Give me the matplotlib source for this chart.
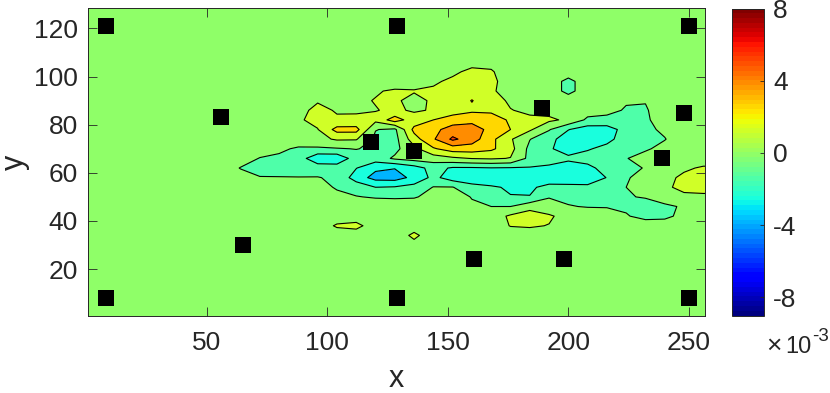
from matplotlib import pyplot as plt
import numpy as np

plt.rcParams['font.family'] = ['Liberation Sans', 'DejaVu Sans']

# field values in units of 1e-3 (top row first)
x_nodes = [56, 64, 72, 80, 88, 96, 104, 112, 120, 128, 136, 144, 152, 160, 168, 176, 184, 192, 200, 208, 216, 224, 232, 240, 248, 256]
y_nodes = [106, 102, 98, 94, 90, 86, 82, 78, 74, 70, 66, 62, 58, 54, 50, 46, 42, 38, 34]
field = [
    [0, 0, 0, 0, 0, 0, 0, 0, 0, 0, 0, 0, 0, .3, .35, 0, 0, 0, 0, 0, 0, 0, 0, 0, 0, 0],
    [0, 0, 0, 0, 0, 0, 0, 0, 0, 0, 0, .2, .45, .9, .75, .1, 0, 0, 0, 0, 0, 0, 0, 0, 0, 0],
    [0, 0, 0, 0, 0, 0, 0, 0, 0, 0, .3, .5, .85, 1.2, .9, .15, 0, 0, -1.0, 0, 0, 0, 0, 0, 0, 0],
    [0, 0, 0, 0, 0, 0, 0, .2, .55, .8, .7, .8, 1.2, 1.4, .8, .2, 0, 0, -1.0, 0, 0, 0, 0, 0, 0, 0],
    [0, 0, 0, 0, 0, .55, .5, .45, .7, .75, .45, .75, 1.2, 2.0, 1.2, .45, .2, 0, 0, 0, -.2, -.55, -.6, -.1, 0, 0],
    [0, 0, 0, 0, .3, .95, .55, .5, .6, .85, .5, .75, 1.3, 1.7, 1.6, .7, .4, .2, .05, -.1, -.35, -.75, -.75, -.1, 0, 0],
    [0, 0, 0, 0, .5, 1.0, .8, .9, 1.0, 2.6, 1.2, 1.95, 2.6, 2.9, 2.8, 1.7, .9, .9, .4, -.9, -.95, -1.0, -.8, -.2, 0, 0],
    [0, 0, 0, 0, .1, .6, 2.4, 2.4, -.6, -.9, 2.3, 2.9, 3.8, 3.8, 2.9, 1.95, .85, -.55, -1.9, -2.6, -2.6, -1.4, -.9, -.45, 0, 0],
    [0, 0, 0, 0, 0, .3, .8, .75, -.9, -1.1, 1.4, 3.1, 4.8, 3.9, 2.3, .8, -.6, -1.5, -2.7, -2.9, -2.4, -1.2, -.9, -.7, 0, 0],
    [0, 0, -.1, -.45, -.8, -.85, -.75, -.6, -.9, -1.0, .3, 1.8, 2.6, 2.6, 2.2, 1.1, -1.0, -1.8, -2.5, -2.1, -1.5, -1.1, -.8, -.3, 0, 0],
    [0, -.1, -.7, -.85, -1.3, -2.9, -2.9, -1.3, -1.3, -.45, -.1, 0, .4, .7, .8, .6, -1.0, -1.4, -1.7, -1.3, -1.1, -.7, -.2, 0, 0, 0],
    [0, -.7, -1.0, -1.1, -1.3, -1.2, -1.3, -1.9, -3.0, -3.2, -2.5, -1.5, -2.1, -2.1, -2.0, -2.05, -2.05, -2.2, -2.6, -2.4, -1.3, -.9, -.6, -.1, .45, .8],
    [0, -.2, -.6, -.6, -.6, -.6, -.85, -2.6, -3.7, -3.8, -2.9, -1.6, -2.6, -2.8, -2.8, -2.8, -2.9, -2.9, -3.0, -2.9, -1.9, -.8, -.1, .3, .9, 1.2],
    [0, 0, 0, 0, 0, -.3, -.75, -1.1, -1.95, -1.85, -1.5, -.6, -.6, -1.5, -1.8, -2.1, -2.2, -1.5, -1.5, -1.6, -1.2, -.65, .1, .45, .95, 1.1],
    [0, 0, 0, 0, 0, 0, -.4, -.6, -.75, -.8, -.75, -.3, -.2, -.7, -1.1, -1.9, -1.9, -.7, -.85, -.9, -.85, -.7, -.6, 0, .4, .4],
    [0, 0, 0, 0, 0, 0, 0, 0, 0, 0, 0, 0, 0, -.5, -.65, -.65, .2, -.3, -.6, -.7, -.7, -.75, -.95, -.9, -.5, 0],
    [0, 0, 0, 0, 0, 0, 0, 0, 0, 0, 0, 0, 0, 0, 0, .85, 1.3, .85, .1, -.1, -.3, -.6, -.85, -.85, -.4, 0],
    [0, 0, 0, 0, 0, 0, .8, 1.0, 0, 0, .1, 0, 0, 0, 0, .7, .8, .6, 0, 0, 0, -.1, -.3, -.2, 0, 0],
    [0, 0, 0, 0, 0, 0, 0, 0, 0, 0, .9, 0, 0, 0, 0, 0, 0, 0, 0, 0, 0, 0, 0, 0, 0, 0],
]
levels = [-9, -7.15, -5.85, -4.55, -3.25, -1.95, -.65, .65, 1.95, 3.25, 4.55, 5.85, 8]

marker_x = [8, 129, 250, 8, 129, 250, 56, 65, 118, 136, 161, 198, 189, 248, 239]
marker_y = [8, 8, 8, 121, 121, 121, 83, 30, 73, 69, 24, 24, 87, 85, 66]

text_c = '#262626'
fig = plt.figure(figsize=(8.3, 3.93), dpi=100)
ax = fig.add_axes([87.5/830, 1-316/393, 617/830, 308/393])
cax = fig.add_axes([731.5/830, 1-315.5/393, 32/830, 307/393])

# pad the table out to the axes limits with flat background
x = np.r_[0, 48, x_nodes, 257]
y = np.r_[0, 28, y_nodes[::-1], 112, 129]
z = np.array(field)[::-1]
z = np.c_[np.zeros((len(y_nodes), 2)), z, z[:, -1]]
z = np.r_[np.zeros((2, len(x))), z, np.zeros((2, len(x)))]

cmap = plt.get_cmap('jet', 64)
cs = ax.contourf(x, y, z, levels=levels, cmap=cmap, vmin=-9, vmax=8)
ax.contour(x, y, z, levels=levels[1:-1], colors='k', linewidths=0.8, linestyles='solid')
ax.plot(marker_x, marker_y, 's', color='k', ms=12.2, mew=0)
ax.set_xlim(0.5, 256.5)
ax.set_ylim(0.5, 128.5)
ax.set_xticks([50, 100, 150, 200, 250])
ax.set_yticks([20, 40, 60, 80, 100, 120])
ax.tick_params(direction='in', top=True, right=True, length=6.5, width=0.6, color=text_c,
               labelsize=19, labelcolor=text_c)
ax.tick_params(axis='x', pad=11)
ax.tick_params(axis='y', pad=7)
ax.set_xlabel('x', fontsize=22, color=text_c, labelpad=6.5)
ax.set_ylabel('y', fontsize=22, color=text_c, labelpad=3)
for s in ax.spines.values():
    s.set_linewidth(0.7)
    s.set_color(text_c)

norm = plt.Normalize(-9, 8)
cb = fig.colorbar(plt.cm.ScalarMappable(norm=norm, cmap=cmap), cax=cax)
cb.set_ticks([-8, -4, 0, 4, 8])
cb.set_ticklabels(['-8', '-4', '0', '4', '8'])
cb.ax.tick_params(direction='in', length=3, width=0.6, color=text_c, labelsize=19,
                  labelcolor=text_c, pad=7)
cb.outline.set_linewidth(0.7)
cb.outline.set_edgecolor(text_c)

fig.text(766/830, 1-353/393, '\u00d7', fontsize=19, color=text_c, ha='left', va='baseline')
fig.text(785/830, 1-353/393, '10', fontsize=17, color=text_c, ha='left', va='baseline')
fig.text(812/830, 1-341/393, '-3', fontsize=13.5, color=text_c, ha='left', va='baseline')

fig.savefig('out.png', dpi=100)
